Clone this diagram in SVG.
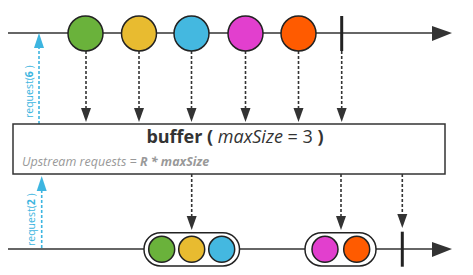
<svg xmlns="http://www.w3.org/2000/svg" width="473" height="275" viewBox="0 0 473 275">
<defs>
<style>
.line{stroke:#333;stroke-width:1.5;fill:none}
.dash{stroke:#333;stroke-width:1.6;stroke-dasharray:3 2;fill:none}
.req{stroke:#3db5e0;stroke-width:1.6;stroke-dasharray:3 2;fill:none}
.ball{stroke:#222;stroke-width:1.5}
.tick{stroke:#222;stroke-width:3}
.cap{fill:#fff;stroke:#222;stroke-width:1.5}
.head{fill:#333}
.rhead{fill:#3db5e0}
.title{font-family:"Open Sans","Noto Sans",sans-serif;font-size:18px;fill:#333}
.sub{font-family:"Open Sans","Noto Sans",sans-serif;font-size:12.5px;font-style:italic;fill:#999}
.rtxt{font-family:"Open Sans","Noto Sans",sans-serif;font-size:10.5px;fill:#3db5e0}
</style>
</defs>
<g id="connectors">
<line class="line" x1="8" y1="33" x2="436" y2="33"/>
<polygon class="head" points="432,26 452,33 432,41"/>
<line class="line" x1="8" y1="249" x2="436" y2="249"/>
<polygon class="head" points="432,242 452,249 432,257"/>
<g id="top-arrows">
<line class="dash" x1="86" y1="51" x2="86" y2="110"/><polygon class="head" points="81,108 91,108 86,122"/>
<line class="dash" x1="139" y1="51" x2="139" y2="110"/><polygon class="head" points="134,108 144,108 139,122"/>
<line class="dash" x1="191.5" y1="51" x2="191.5" y2="110"/><polygon class="head" points="186.5,108 196.5,108 191.5,122"/>
<line class="dash" x1="245.5" y1="51" x2="245.5" y2="110"/><polygon class="head" points="240.5,108 250.5,108 245.5,122"/>
<line class="dash" x1="298.5" y1="51" x2="298.5" y2="110"/><polygon class="head" points="293.5,108 303.5,108 298.5,122"/>
<line class="dash" x1="341.7" y1="51" x2="341.7" y2="110"/><polygon class="head" points="336.7,108 346.7,108 341.7,122"/>
</g>
<g id="bottom-arrows">
<line class="dash" x1="191.7" y1="174" x2="191.7" y2="218"/><polygon class="head" points="186.7,216 196.7,216 191.7,230"/>
<line class="dash" x1="341" y1="174" x2="341" y2="218"/><polygon class="head" points="336,216 346,216 341,230"/>
<line class="dash" x1="402.3" y1="174" x2="402.3" y2="216"/><polygon class="head" points="397.3,214 407.3,214 402.3,228"/>
</g>
<g id="requests">
<line class="req" x1="39" y1="124" x2="39" y2="46"/><polygon class="rhead" points="34,48 44,48 39,33"/>
<line class="req" x1="41.7" y1="248" x2="41.7" y2="189"/><polygon class="rhead" points="36.7,191 46.7,191 41.7,176"/>
</g>
</g>
<g id="req6"><text class="rtxt" transform="translate(33,118) rotate(-90)">request(<tspan font-weight="bold">6</tspan> )</text></g>
<g id="req2"><text class="rtxt" transform="translate(35,246) rotate(-90)">request(<tspan font-weight="bold">2</tspan> )</text></g>
<g id="top-green"><circle class="ball" cx="85.5" cy="33.5" r="17.5" fill="#6ab23b"/></g>
<g id="top-yellow"><circle class="ball" cx="139" cy="33.5" r="17.5" fill="#e8bb30"/></g>
<g id="top-blue"><circle class="ball" cx="191.5" cy="33.5" r="17.5" fill="#44b8e0"/></g>
<g id="top-magenta"><circle class="ball" cx="245.5" cy="33.5" r="17.5" fill="#e23fce"/></g>
<g id="top-orange"><circle class="ball" cx="298.5" cy="33.5" r="17.5" fill="#ff5b00"/></g>
<g id="top-complete"><line class="tick" x1="341.7" y1="16" x2="341.7" y2="51"/></g>
<g id="buffer">
<rect x="13" y="124" width="432" height="50" fill="#fff" stroke="#333" stroke-width="1.5"/>
<text class="title" x="235" y="143" text-anchor="middle"><tspan font-weight="bold">buffer ( </tspan><tspan font-style="italic">maxSize</tspan> = 3 <tspan font-weight="bold">)</tspan></text>
<text class="sub" x="22" y="166">Upstream requests = <tspan font-weight="bold">R * maxSize</tspan></text>
</g>
<g id="bottom-group1">
<rect class="cap" x="144" y="232.7" width="95.5" height="33.3" rx="16.6"/>
<circle class="ball" cx="161.7" cy="249.3" r="13" fill="#6ab23b"/>
<circle class="ball" cx="191.7" cy="249.3" r="13" fill="#e8bb30"/>
<circle class="ball" cx="221.7" cy="249.3" r="13" fill="#44b8e0"/>
</g>
<g id="bottom-group2">
<rect class="cap" x="305" y="232.7" width="71" height="33.3" rx="16.6"/>
<circle class="ball" cx="325" cy="249.3" r="13" fill="#e23fce"/>
<circle class="ball" cx="356.7" cy="249.3" r="13" fill="#ff5b00"/>
</g>
<g id="bottom-complete"><line class="tick" x1="402.3" y1="231.7" x2="402.3" y2="266.7"/></g>
</svg>
